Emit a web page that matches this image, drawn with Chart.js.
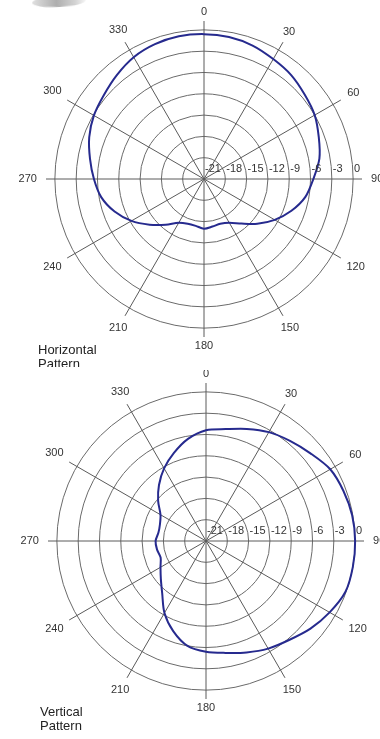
<!DOCTYPE html>
<html><head><meta charset="utf-8">
<script src="https://cdn.jsdelivr.net/npm/chart.js@4/dist/chart.umd.min.js"></script>
<style>
html,body{margin:0;padding:0;background:#fff;width:380px;height:739px;overflow:hidden;position:relative;font-family:"Liberation Sans",Arial,sans-serif}
.wrap{position:absolute;left:0;width:380px;overflow:hidden}
#w1{top:0;height:368px}
#w2{top:370px;height:369px}
canvas{display:block}
.cap{position:absolute;font-size:13px;line-height:14px;color:#222;font-family:"Liberation Sans",Arial,sans-serif}
.swoosh{position:absolute;left:32px;top:-4px;width:54px;height:11px;border-radius:50%;background:linear-gradient(90deg,#d8d8d8,#9a9a9a 45%,#c8c8c8 80%,#f4f4f4);transform:rotate(-3deg);opacity:.8}
</style></head><body>
<div class="wrap" id="w1"><canvas id="c1" width="380" height="370"></canvas></div>
<div class="wrap" id="w2"><canvas id="c2" width="380" height="369"></canvas></div>
<div class="swoosh"></div>
<div class="cap" style="left:38px;top:343px;height:24px;overflow:hidden">Horizontal<br>Pattern</div>
<div class="cap" style="left:40px;top:705px">Vertical<br>Pattern</div>
<script>
// Angles (degrees, clockwise from top) at which the pattern is sampled
const categories = [0,10,20,30,40,50,60,70,80,90,100,110,120,130,140,150,160,170,
                    180,190,200,210,220,230,240,250,260,270,280,290,300,310,320,330,340,350];
// Horizontal pattern, relative level in dB
const horizontalDb = [-0.6,-0.7,-1.0,-1.5,-1.9,-2.5,-3.0,-3.8,-4.5,-5.6,-6.5,-7.9,-9.5,-11.2,-12.8,-13.9,-14.3,-14.2,
                      -14.0,-14.3,-14.3,-13.9,-12.6,-11.0,-9.2,-7.6,-6.3,-5.5,-4.7,-3.8,-3.1,-2.6,-1.9,-1.2,-0.8,-0.6];
// Vertical pattern, relative level in dB
const verticalDb = [-5.4,-5.0,-4.2,-3.3,-2.6,-1.8,-0.8,-0.4,-0.1,0.0,0.0,-0.1,-0.9,-1.8,-2.8,-3.5,-4.3,-5.0,
                    -5.4,-6.0,-7.5,-9.3,-11.4,-12.7,-13.6,-14.2,-14.0,-13.9,-14.2,-14.1,-13.6,-12.2,-10.7,-9.2,-7.8,-6.4];
// Angle labels and radial (dB) tick labels
const angleLabels = [0,30,60,90,120,150,180,210,240,270,300,330];
const rTicks = [-21,-18,-15,-12,-9,-6,-3,0];

const labelPlugin = {
  id: 'polarLabels',
  afterDraw(chart) {
    const s = chart.scales.r;
    const ctx = chart.ctx;
    ctx.save();
    ctx.font = '11px "Liberation Sans", Arial, sans-serif';
    ctx.fillStyle = '#333';
    const r0 = s.getDistanceFromCenterForValue(0);
    angleLabels.forEach(a => {
      const idx = categories.indexOf(a);
      const txt = String(a);
      const w = ctx.measureText(txt).width;
      const rad = a * Math.PI / 180;
      const p = s.getPointPosition(idx, r0 + 18 + Math.abs(Math.sin(rad)) * w / 2);
      ctx.textAlign = 'center';
      ctx.textBaseline = 'middle';
      ctx.fillText(txt, p.x, p.y);
    });
    ctx.textAlign = 'left';
    ctx.textBaseline = 'alphabetic';
    const i90 = categories.indexOf(90);
    rTicks.forEach(v => {
      const p = s.getPointPosition(i90, s.getDistanceFromCenterForValue(v));
      ctx.fillText(String(v), p.x + 1, p.y - 7);
    });
    ctx.restore();
  }
};

function makeChart(id, values, pad) {
  return new Chart(document.getElementById(id), {
    type: 'radar',
    data: {
      labels: categories.map(String),
      datasets: [{
        data: values,
        borderColor: '#262a8e',
        borderWidth: 2,
        pointRadius: 0,
        pointHoverRadius: 0,
        fill: false,
        tension: 0.3
      }]
    },
    options: {
      responsive: false,
      animation: false,
      layout: { padding: pad },
      plugins: { legend: { display: false }, tooltip: { enabled: false } },
      scales: {
        r: {
          min: -21,
          max: 1.25,
          ticks: { display: false, stepSize: 3 },
          afterBuildTicks: sc => { sc.ticks = rTicks.map(v => ({ value: v })); },
          grid: { circular: true, color: '#6a6a6a', lineWidth: 1 },
          angleLines: {
            color: c => angleLabels.includes(categories[c.index]) ? '#5a5a5a' : 'rgba(0,0,0,0)',
            lineWidth: c => angleLabels.includes(categories[c.index]) ? 1 : 0
          },
          pointLabels: { display: false }
        }
      }
    },
    plugins: [labelPlugin]
  });
}

makeChart('c1', horizontalDb, { top: 21, bottom: 33, left: 46, right: 18 });
makeChart('c2', verticalDb, { top: 13, bottom: 40, left: 48, right: 16 });
</script>
</body></html>
